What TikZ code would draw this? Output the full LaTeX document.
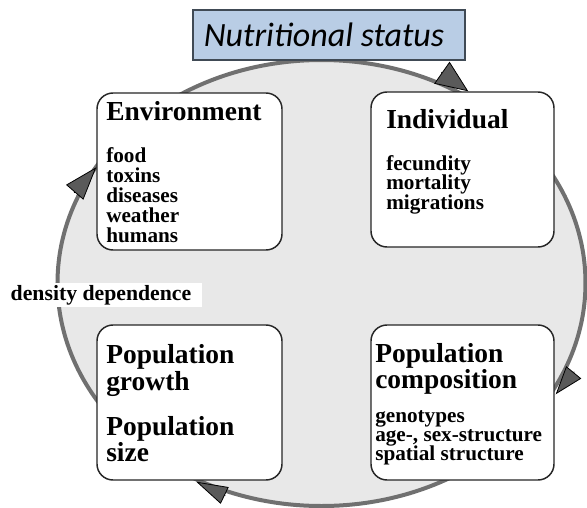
\documentclass[tikz,border=0pt]{standalone}
\usepackage{fontspec}
\setmainfont{Liberation Serif}
\newfontfamily\calib{Carlito}
\usetikzlibrary{arrows.meta,calc}
\definecolor{ringfill}{HTML}{E8E8E8}
\definecolor{ringline}{HTML}{707070}
\definecolor{nsfill}{HTML}{B9CDE5}
\definecolor{nsline}{HTML}{404A55}
\definecolor{tipfill}{HTML}{5A5A5A}
\begin{document}
\begin{tikzpicture}[x=0.75pt,y=-0.75pt,
  box/.style={draw=black!85, line width=1.1pt, fill=white, rounded corners=12pt,
    minimum width=138pt, minimum height=116.25pt, inner sep=0pt},
  nsbox/.style={draw=nsline, fill=nsfill, line width=0.8pt, minimum width=204pt,
    minimum height=37.5pt, inner sep=0pt, font=\calib\itshape\fontsize{25.5}{28}\selectfont},
  ttl/.style={font=\bfseries\fontsize{20.6}{22}\selectfont, anchor=base west, inner sep=0pt},
  itm/.style={font=\bfseries\fontsize{15.9}{18}\selectfont, anchor=base west, inner sep=0pt},
  ddlabel/.style={fill=white, inner sep=0pt, minimum width=151.5pt, minimum height=18pt,
    font=\bfseries\fontsize{16.3}{18}\selectfont},
  arr/.style 2 args={-{Triangle[length=#1,width=#2,fill=tipfill,color=black,line width=0.6pt]},
    line width=0.6pt, draw=black}]
\useasboundingbox (0,0) rectangle (587,508);
\fill[white] (0,0) rectangle (587,508);
% ring
\draw[draw=ringline, fill=ringfill, line width=3pt] (321.5,283) ellipse [x radius=198pt, y radius=167.25pt];
% top label
\node[nsbox] (ns) at (329,35) {\kern-7.5pt Nutritional status};
% boxes
\node[box, minimum height=117.75pt, minimum width=138.75pt] (env) at (189.5,171.5) {};
\node[box, minimum width=137.25pt] (ind) at (462.5,169.5) {};
\node[box, minimum width=138.75pt] (pg) at (189.5,402.5) {};
\node[box, minimum width=137.25pt] (pc) at (462.5,402.5) {};
% Environment
\node[ttl] (envT) at (106,120) {Environment};
\foreach \t [count=\i from 0] in {food,toxins,diseases,weather,humans}
  \node[itm] (envI\i) at (106,{162+20*\i}) {\t};
% Individual
\node[ttl] (indT) at (386,128) {Individual};
\foreach \t [count=\i from 0] in {fecundity,mortality,migrations}
  \node[itm] (indI\i) at (386,{170+19.5*\i}) {\t};
% Population growth
\node[ttl] (pgT1) at (106,363) {Population};
\node[ttl] (pgT2) at (106,390) {growth};
\node[ttl] (pgT3) at (106,435) {Population};
\node[ttl] (pgT4) at (106,461) {size};
% Population composition
\node[ttl] (pcT1) at (375,362) {Population};
\node[ttl] (pcT2) at (375,388) {composition};
\foreach \t [count=\i from 0] in {genotypes,{age-, sex-structure},spatial structure}
  \node[itm] (pcI\i) at (375,{422+19.3*\i}) {\t};
% density dependence
\node[ddlabel] (dd) at (101,295) {density dependence};
% arrowheads
\coordinate (t1) at ($(ind.north west)+(98,0)$);
\coordinate (b1) at ($(t1)+(-27,-19)$);
\coordinate (t2) at ($(pc.north east)+(1,70)$);
\coordinate (b2) at ($(t2)+(18.5,-22.5)$);
\coordinate (t3) at ($(pg.south west)+(100,1)$);
\coordinate (b3) at ($(t3)+(29,14)$);
\coordinate (t4) at ($(env.north west)+(0,75)$);
\coordinate (b4) at ($(t4)+(-22,25.5)$);
\draw[arr={24.25pt}{20pt}] (b1) -- (t1);
\draw[arr={21.3pt}{14.5pt}] (b2) -- (t2);
\draw[arr={23.7pt}{13.8pt}] (b3) -- (t3);
\draw[arr={24.8pt}{17pt}] (b4) -- (t4);
\end{tikzpicture}
\end{document}
